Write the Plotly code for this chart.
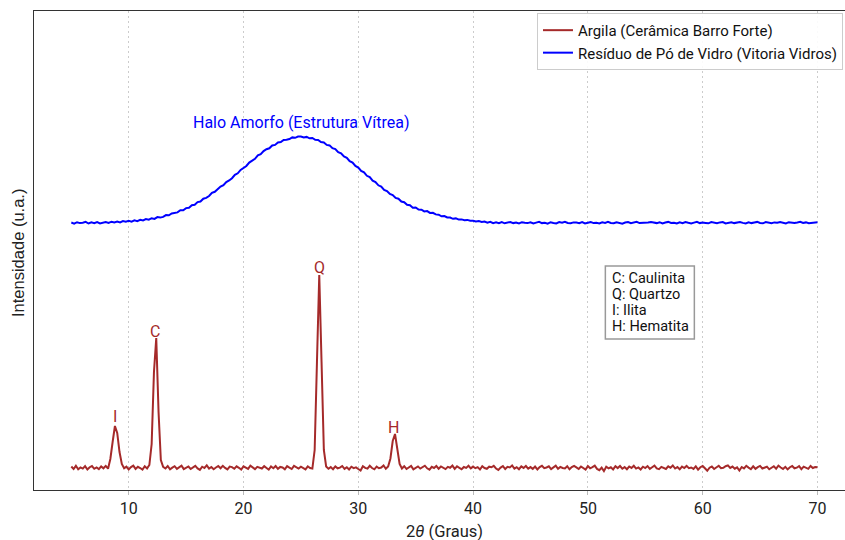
import numpy as np
import plotly.graph_objects as go

# ---------------- data ----------------
# Blue: glass-powder residue, 2θ from 5 to 70 every 0.25°
blue_start, blue_step = 5.0, 0.25
blue_intensity = [
    267.5, 266.4, 267.8, 266.9,   # 5
    267.2, 268.1, 266.5, 267.6,   # 6
    266.8, 267.9, 266.6, 267.4,   # 7
    268.0, 267.1, 268.3, 267.5,   # 8
    268.4, 267.6, 268.9, 268.2,   # 9
    269.1, 268.4, 269.6, 268.9,   # 10
    270.2, 269.5, 270.9, 270.3,   # 11
    271.8, 271.1, 272.9, 272.4,   # 12
    273.1, 274.9, 274.7, 276.5,   # 13
    277.4, 277.6, 279.7, 279.8,   # 14
    281.9, 282.3, 284.8, 285.2,   # 15
    287.9, 288.5, 291.3, 292.1,   # 16
    294.0, 297.1, 298.2, 301.2,   # 17
    303.4, 304.8, 308.0, 309.5,   # 18
    311.8, 315.2, 316.7, 320.1,   # 19
    322.5, 324.0, 327.4, 328.9,   # 20
    331.2, 334.6, 335.8, 338.9,   # 21
    340.8, 341.7, 344.5, 345.1,   # 22
    347.6, 347.9, 350.1, 350.2,   # 23
    351.0, 352.6, 352.2, 353.4,   # 24
    353.5, 352.5, 353.1, 351.7,   # 25
    352.0, 350.2, 350.0, 347.9,   # 26
    347.5, 345.1, 344.6, 341.8,   # 27
    340.9, 337.8, 336.7, 333.5,   # 28
    332.2, 328.8, 327.4, 324.0,   # 29
    322.5, 319.1, 317.6, 314.2,   # 30
    312.9, 309.4, 308.0, 304.7,   # 31
    303.4, 300.2, 299.0, 296.0,   # 32
    295.0, 292.1, 291.3, 288.5,   # 33
    287.8, 285.2, 284.7, 282.3,   # 34
    282.5, 280.5, 280.3, 278.6,   # 35
    278.9, 277.1, 277.2, 275.6,   # 36
    275.3, 273.7, 274.0, 272.6,   # 37
    272.4, 271.2, 271.6, 270.4,   # 38
    270.6, 269.7, 270.1, 269.2,   # 39
    269.3, 268.6, 268.9, 268.1,   # 40
    268.5, 267.3, 268.2, 266.9,   # 41
    267.6, 266.8, 267.9, 266.7,   # 42
    267.3, 268.0, 266.9, 267.5,   # 43
    266.6, 267.8, 267.2, 266.9,   # 44
    267.7, 266.5, 267.4, 268.1,   # 45
    266.9, 267.3, 266.4, 267.8,   # 46
    267.1, 266.6, 267.9, 267.2,   # 47
    268.2, 267.0, 266.7, 267.6,   # 48
    267.4, 266.8, 267.9, 266.5,   # 49
    267.3, 268.0, 266.9, 267.2,   # 50
    266.6, 267.7, 267.1, 268.1,   # 51
    267.0, 266.7, 267.8, 267.3,   # 52
    266.4, 267.5, 267.9, 266.8,   # 53
    267.6, 268.2, 266.9, 267.1,   # 54
    266.7, 267.4, 268.0, 267.2,   # 55
    266.9, 267.8, 266.6, 267.5,   # 56
    268.1, 267.0, 267.3, 266.5,   # 57
    267.7, 266.8, 267.9, 267.2,   # 58
    266.6, 267.4, 268.2, 266.9,   # 59
    267.5, 267.1, 266.7, 268.0,   # 60
    267.3, 266.8, 267.6, 267.9,   # 61
    266.5, 267.2, 267.8, 266.9,   # 62
    267.4, 268.0, 267.1, 266.6,   # 63
    267.7, 266.9, 267.5, 268.1,   # 64
    267.0, 266.7, 267.9, 267.3,   # 65
    266.8, 267.6, 267.2, 268.0,   # 66
    267.4, 266.6, 267.8, 267.1,   # 67
    266.9, 267.5, 268.2, 267.0,   # 68
    267.6, 266.8, 267.3, 267.9,   # 69
    267.8,                        # 70
]

# Red: clay (Cerâmica Barro Forte), 2θ from 5 to 70 every 0.2°
red_start, red_step = 5.0, 0.2
red_intensity = [
    23.5, 21.0, 24.2, 20.8, 22.6,     # 5
    21.4, 23.9, 20.5, 22.8, 24.0,     # 6
    21.2, 22.5, 20.9, 23.6, 21.7,     # 7
    24.1, 21.3, 31.0, 48.0, 64.0,     # 8  (I)
    57.0, 38.0, 26.0, 21.8, 23.4,     # 9
    20.6, 22.9, 24.3, 21.1, 23.2,     # 10
    22.0, 20.4, 23.7, 21.6, 25.0,     # 11
    46.0, 118.0, 152.0, 78.0, 30.0,   # 12 (C)
    23.1, 21.5, 24.0, 20.7, 22.4,     # 13
    23.8, 21.2, 22.7, 24.4, 20.9,     # 14
    22.3, 23.5, 21.0, 22.8, 24.1,     # 15
    21.6, 20.2, 23.3, 22.0, 24.6,     # 16
    21.4, 23.0, 20.8, 22.5, 23.9,     # 17
    21.7, 24.2, 22.1, 20.6, 23.4,     # 18
    22.9, 21.3, 23.7, 22.2, 20.5,     # 19
    23.6, 22.0, 21.1, 24.3, 22.6,     # 20
    20.9, 23.2, 22.4, 21.5, 23.8,     # 21
    22.1, 20.3, 23.5, 21.8, 24.0,     # 22
    21.2, 23.1, 22.6, 20.7, 23.9,     # 23
    22.4, 21.0, 24.2, 22.8, 21.5,     # 24
    23.3, 22.1, 20.6, 23.7, 22.0,     # 25
    21.4, 40.0, 128.0, 215.0, 128.0,  # 26 (Q)
    40.0, 23.5, 21.2, 22.9, 20.8,     # 27
    23.6, 21.7, 22.4, 24.0, 21.1,     # 28
    22.8, 20.5, 23.3, 21.9, 22.6,     # 29
    21.0, 19.5, 23.8, 22.1, 21.4,     # 30
    24.2, 22.0, 20.7, 23.4, 21.8,     # 31
    22.5, 24.6, 21.2, 23.5, 31.5,     # 32
    49.0, 56.0, 40.0, 26.0, 21.5,     # 33 (H)
    23.8, 21.0, 22.7, 24.1, 20.6,     # 34
    22.3, 23.6, 21.4, 22.9, 24.3,     # 35
    21.7, 20.4, 23.2, 22.0, 24.0,     # 36
    21.3, 23.5, 22.6, 20.9, 23.1,     # 37
    22.2, 24.4, 21.1, 23.7, 22.5,     # 38
    20.7, 23.0, 22.1, 24.2, 21.6,     # 39
    23.4, 21.8, 22.9, 20.5, 23.8,     # 40
    22.0, 21.2, 23.3, 22.7, 24.1,     # 41
    21.5, 20.1, 22.4, 23.9, 21.0,     # 42
    23.2, 22.6, 24.5, 21.3, 22.8,     # 43
    20.8, 23.6, 22.1, 24.0, 21.4,     # 44
    22.9, 21.1, 23.4, 20.6, 23.0,     # 45
    24.2, 21.8, 22.5, 23.7, 20.9,     # 46
    22.3, 24.4, 21.2, 23.1, 22.0,     # 47
    21.5, 23.8, 20.7, 22.9, 24.1,     # 48
    22.6, 21.0, 23.5, 22.2, 20.4,     # 49
    23.9, 21.7, 22.8, 24.3, 21.1,     # 50
    19.8, 22.4, 18.9, 23.2, 21.6,     # 51
    22.7, 20.6, 23.8, 21.9, 24.0,     # 52
    21.3, 22.9, 20.8, 23.5, 22.1,     # 53
    24.2, 21.4, 22.6, 20.5, 23.3,     # 54
    22.0, 23.9, 21.2, 22.8, 24.4,     # 55
    21.6, 20.9, 23.1, 22.4, 21.0,     # 56
    23.7, 22.2, 24.5, 21.5, 22.9,     # 57
    20.7, 23.4, 22.0, 24.1, 21.8,     # 58
    22.5, 21.1, 23.6, 20.4, 22.8,     # 59
    24.0, 21.7, 19.2, 22.3, 23.5,     # 60
    21.0, 22.6, 24.3, 21.9, 22.2,     # 61
    23.8, 24.6, 22.1, 23.4, 21.3,     # 62
    22.7, 19.5, 23.0, 21.6, 24.2,     # 63
    22.4, 20.8, 23.7, 21.2, 22.9,     # 64
    24.1, 21.5, 22.6, 23.3, 20.7,     # 65
    22.0, 23.8, 21.4, 24.4, 22.5,     # 66
    21.1, 23.2, 20.6, 22.8, 24.0,     # 67
    21.7, 22.3, 23.9, 20.9, 23.4,     # 68
    22.6, 21.2, 24.1, 22.0, 23.0,     # 69
    22.7,                             # 70
]

blue_2theta = blue_start + blue_step * np.arange(len(blue_intensity))
red_2theta = red_start + red_step * np.arange(len(red_intensity))

peak_labels = ["I", "C", "Q", "H"]
peak_2theta = [8.8, 12.3, 26.65, 33.1]
peak_label_y = [74, 159, 223, 63]

halo_label = "Halo Amorfo (Estrutura Vítrea)"
halo_pos = (25.0, 368)

key_lines = ["C: Caulinita", "Q: Quartzo", "I: Ilita", "H: Hematita"]
box_pos = (55.4, 187.5)

x_ticks = [10, 20, 30, 40, 50, 60, 70]

RED = "#a52a2a"
BLUE = "#0000ff"
FONT = "Roboto"

fig = go.Figure()
fig.add_trace(go.Scatter(x=red_2theta, y=red_intensity, mode="lines",
                         name="Argila (Cerâmica Barro Forte)",
                         line=dict(color=RED, width=2)))
fig.add_trace(go.Scatter(x=blue_2theta, y=blue_intensity, mode="lines",
                         name="Resíduo de Pó de Vidro (Vitoria Vidros)",
                         line=dict(color=BLUE, width=2)))

for lab, px, py in zip(peak_labels, peak_2theta, peak_label_y):
    fig.add_annotation(x=px, y=py, text=lab, showarrow=False,
                       font=dict(family=FONT, size=16, color=RED),
                       xanchor="center", yanchor="middle")

fig.add_annotation(x=halo_pos[0], y=halo_pos[1], text=halo_label, showarrow=False,
                   font=dict(family=FONT, size=16, color=BLUE),
                   xanchor="center", yanchor="middle")

# key text box: frame + one text line each
fig.add_shape(type="rect", xref="x", yref="y", xsizemode="pixel", ysizemode="pixel",
              xanchor=box_pos[0], yanchor=box_pos[1],
              x0=-44.5, x1=44.5, y0=-36.5, y1=36.5,
              line=dict(color="#999999", width=1.5), fillcolor="white", layer="above")
for i, t in enumerate(key_lines):
    fig.add_annotation(x=box_pos[0], y=box_pos[1], xshift=-39.5, yshift=24.5 - 16.3 * i,
                       text=t, showarrow=False, xanchor="left", yanchor="middle",
                       font=dict(family=FONT, size=14.5, color="#111"))

# axis titles as paper annotations
fig.add_annotation(xref="paper", yref="paper", x=(445 - 34) / 811, y=0, yshift=-41,
                   text="2<i>θ</i> (Graus)", showarrow=False,
                   font=dict(family=FONT, size=16.5, color="#222"),
                   xanchor="center", yanchor="middle")
fig.add_annotation(xref="paper", yref="paper", x=0, xshift=-16, y=(490 - 253) / 479,
                   text="Intensidade (u.a.)", showarrow=False, textangle=-90,
                   font=dict(family="Liberation Sans", size=16.5, color="#222"),
                   xanchor="center", yanchor="middle")

fig.update_layout(
    width=845, height=540,
    margin=dict(l=34, r=0, t=11, b=50, autoexpand=False),
    plot_bgcolor="white", paper_bgcolor="white",
    font=dict(family=FONT, size=14, color="#222"),
    showlegend=True,
    legend=dict(x=0.9975, y=0.996, xanchor="right", yanchor="top",
                bgcolor="rgba(255,255,255,0.9)", bordercolor="#cccccc", borderwidth=1,
                font=dict(family=FONT, size=15, color="#111"),
                tracegroupgap=0, itemwidth=30),
    xaxis=dict(range=[1.75, 72.4], tickvals=x_ticks, automargin=False,
               showgrid=True, gridcolor="#cccccc", griddash="2px,3px", gridwidth=1,
               showline=True, linecolor="#333", linewidth=1.2, mirror=True,
               ticks="outside", ticklen=4, tickcolor="#bbbbbb",
               tickfont=dict(family=FONT, size=16, color="#222"),
               zeroline=False),
    yaxis=dict(range=[0, 479], showticklabels=False, ticks="", automargin=False,
               showgrid=False, zeroline=False,
               showline=True, linecolor="#333", linewidth=1.2),
)

fig.write_html("out.html", config={"displayModeBar": False},
               post_script="document.body.style.margin='0';document.body.style.overflow='hidden';")
